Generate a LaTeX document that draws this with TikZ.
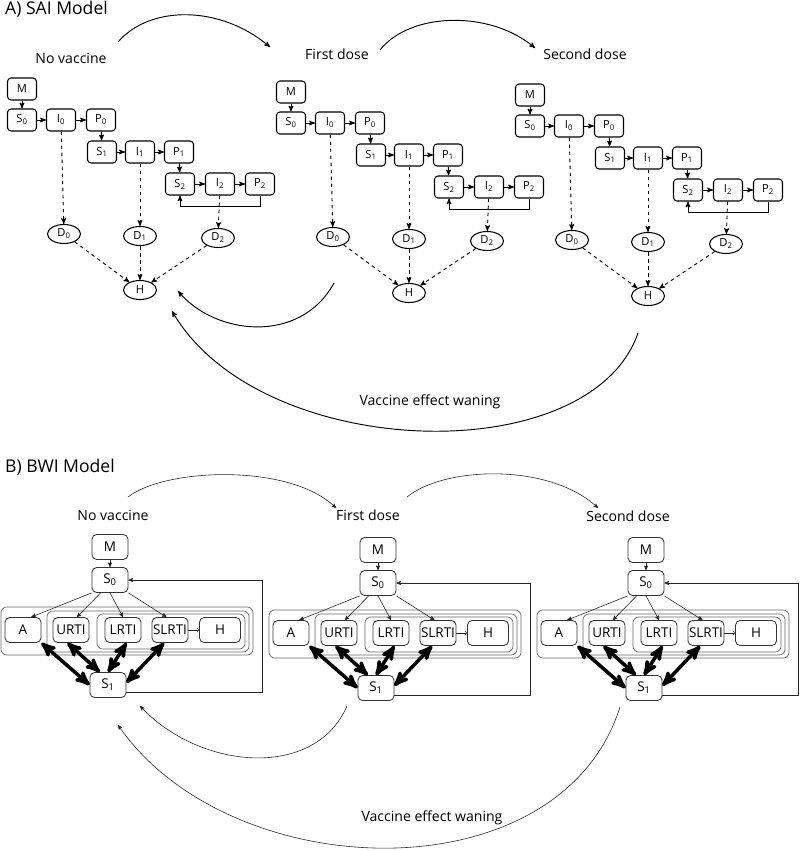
\documentclass[tikz,border=0pt]{standalone}
\usepackage{fontspec}
\setmainfont{Open Sans}
\usetikzlibrary{arrows}
\usetikzlibrary{shapes}

\tikzset{
	comp/.style  = {draw, line width=0.9pt, rounded corners=3pt, minimum width=0.87cm,
	                minimum height=0.66cm, inner sep=1pt, font=\fontsize{9.5}{11}\selectfont},
	dead/.style  = {draw, ellipse, line width=0.9pt, minimum width=0.99cm,
	                minimum height=0.57cm, inner sep=0pt, font=\fontsize{9.5}{11}\selectfont},
	bcomp/.style = {draw=black!80, line width=0.7pt, rounded corners=4pt, minimum width=1.08cm,
	                minimum height=0.75cm, inner sep=0.5pt, font=\fontsize{11.5}{13}\selectfont},
	wrap/.style  = {draw=black!60, line width=0.6pt, rounded corners=5pt},
	flow/.style  = {->, line width=0.8pt},
	death/.style = {->, line width=0.8pt, dashed},
	thin/.style  = {->, draw=black!85, line width=0.5pt},
	fat/.style   = {<->, line width=3pt},
	label/.style = {font=\fontsize{12}{14}\selectfont},
	title/.style = {font=\fontsize{15}{18}\selectfont, anchor=west}
}

\begin{document}
\begin{tikzpicture}[x=0.03cm, y=-0.03cm, >=stealth']                  % one unit = one pixel
	\useasboundingbox (0,0) rectangle (799,851);

	% ---------------- A) SAI model ----------------
	\node[title] (titleA) at (1,9) {A) SAI Model};
	\node[label] (novacA) at (71,58) {No vaccine};
	\node[label] (firstA) at (337,54) {First dose};
	\node[label] (secondA) at (585,54) {Second dose};

	\foreach \g/\dx/\dy in {a/0/0, b/269/3, c/508/6} {
	\begin{scope}[shift={(\dx,\dy)}]
		\node[comp] (M\g)  at (22,89)   {M};
		\node[comp] (S0\g) at (22,120)  {S\textsubscript{0}};
		\node[comp] (I0\g) at (61,120)  {I\textsubscript{0}};
		\node[comp] (P0\g) at (101,120) {P\textsubscript{0}};
		\node[comp] (S1\g) at (102,152) {S\textsubscript{1}};
		\node[comp] (I1\g) at (140,152) {I\textsubscript{1}};
		\node[comp] (P1\g) at (179,152) {P\textsubscript{1}};
		\node[comp] (S2\g) at (180,184) {S\textsubscript{2}};
		\node[comp] (I2\g) at (220,184) {I\textsubscript{2}};
		\node[comp] (P2\g) at (260,184) {P\textsubscript{2}};
		\node[dead] (D0\g) at (64,234)  {D\textsubscript{0}};
		\node[dead] (D1\g) at (140,236) {D\textsubscript{1}};
		\node[dead] (D2\g) at (218,238) {D\textsubscript{2}};
		\node[dead] (H\g)  at (140,290) {H};
		\draw[flow] (M\g) -- (S0\g);
		\draw[flow] (S0\g) -- (I0\g);
		\draw[flow] (I0\g) -- (P0\g);
		\draw[flow] (P0\g) -- (S1\g);
		\draw[flow] (S1\g) -- (I1\g);
		\draw[flow] (I1\g) -- (P1\g);
		\draw[flow] (P1\g) -- (S2\g);
		\draw[flow] (S2\g) -- (I2\g);
		\draw[flow] (I2\g) -- (P2\g);
		\draw[flow] (P2\g.south) -- ++(0,11) -| (S2\g.south);        % back to susceptible
		\draw[death] (I0\g) -- (D0\g);
		\draw[death] (I1\g) -- (D1\g);
		\draw[death] (I2\g) -- (D2\g);
		\draw[death] (D0\g) -- (H\g);
		\draw[death] (D1\g) -- (H\g);
		\draw[death] (D2\g) -- (H\g);
	\end{scope}
	}

	\coordinate (upA1) at (118,42);   \coordinate (upA2) at (270,47);
	\coordinate (upA3) at (380,50);   \coordinate (upA4) at (535,48);
	\coordinate (dnA1) at (334,283);  \coordinate (dnA2) at (178,291);
	\coordinate (dnA3) at (638,333);  \coordinate (dnA4) at (172,311);
	\draw[flow] (upA1) .. controls (150,5) and (220,5) .. (upA2);
	\draw[flow] (upA3) .. controls (410,12) and (490,10) .. (upA4);
	\draw[flow] (dnA1) .. controls (300,345) and (215,335) .. (dnA2);
	\draw[flow] (dnA3) .. controls (590,472) and (260,462) .. (dnA4);
	\node[label] (waneA) at (430,402) {Vaccine effect waning};

	% ---------------- B) BWI model ----------------
	\node[title] (titleB) at (1,467) {B) BWI Model};
	\node[label] (novacB) at (113,515) {No vaccine};
	\node[label] (firstB) at (368,515) {First dose};
	\node[label] (secondB) at (628,516) {Second dose};

	\foreach \g/\dx/\dy in {a/0/0, b/268/3, c/536/3} {
	\begin{scope}[shift={(\dx,\dy)}]
		\draw[wrap] (1,607) rectangle (253,655);                      % nested groups
		\draw[wrap] (47,611) rectangle (249,652);
		\draw[wrap] (97,614) rectangle (245,649);
		\node[bcomp] (BM\g)  at (110,547) {M};
		\node[bcomp] (BS0\g) at (110,580) {S\textsubscript{0}};
		\node[bcomp] (A\g)   at (23,630)  {A};
		\node[bcomp] (U\g)   at (71,630)  {URTI};
		\node[bcomp] (L\g)   at (123,630) {LRTI};
		\node[bcomp] (SL\g)  at (170,630) {SLRTI};
		\node[bcomp, minimum width=1.23cm] (BH\g) at (220,630) {H};
		\node[bcomp] (BS1\g) at (108,685) {S\textsubscript{1}};
		\draw[thin] (BM\g) -- (BS0\g);
		\draw[thin] (BS0\g.south west) -- ([xshift=7pt]A\g.north);
		\draw[thin] ([xshift=-8pt]BS0\g.south) -- ([xshift=5pt]U\g.north);
		\draw[thin] (BS0\g.south) -- (L\g.north);
		\draw[thin] (BS0\g.south east) -- ([xshift=-3pt]SL\g.north);
		\draw[thin, -to] (SL\g) -- (BH\g);
		\draw[fat] (A\g.south east) -- (BS1\g.west);
		\draw[fat] ([xshift=-3pt]U\g.south) -- ([xshift=-7pt]BS1\g.north);
		\draw[fat] ([xshift=3pt]L\g.south) -- (BS1\g.north);
		\draw[fat] ([xshift=-5pt]SL\g.south) -- ([yshift=2pt]BS1\g.east);
		\draw[thin] ([yshift=-6pt]BS1\g.east) -- ++(136,0) |- (BS0\g.east);
	\end{scope}
	}

	\coordinate (upB1) at (128,497);  \coordinate (upB2) at (336,508);
	\coordinate (upB3) at (407,497);  \coordinate (upB4) at (598,508);
	\coordinate (dnB1) at (347,706);  \coordinate (dnB2) at (140,706);
	\coordinate (dnB3) at (620,707);  \coordinate (dnB4) at (118,725);
	\draw[thin] (upB1) .. controls (165,468) and (290,463) .. (upB2);
	\draw[thin] (upB3) .. controls (445,466) and (550,463) .. (upB4);
	\draw[thin] (dnB1) .. controls (315,780) and (200,770) .. (dnB2);
	\draw[thin] (dnB3) .. controls (560,897) and (230,887) .. (dnB4);
	\node[label] (waneB) at (432,818) {Vaccine effect waning};
\end{tikzpicture}
\end{document}
